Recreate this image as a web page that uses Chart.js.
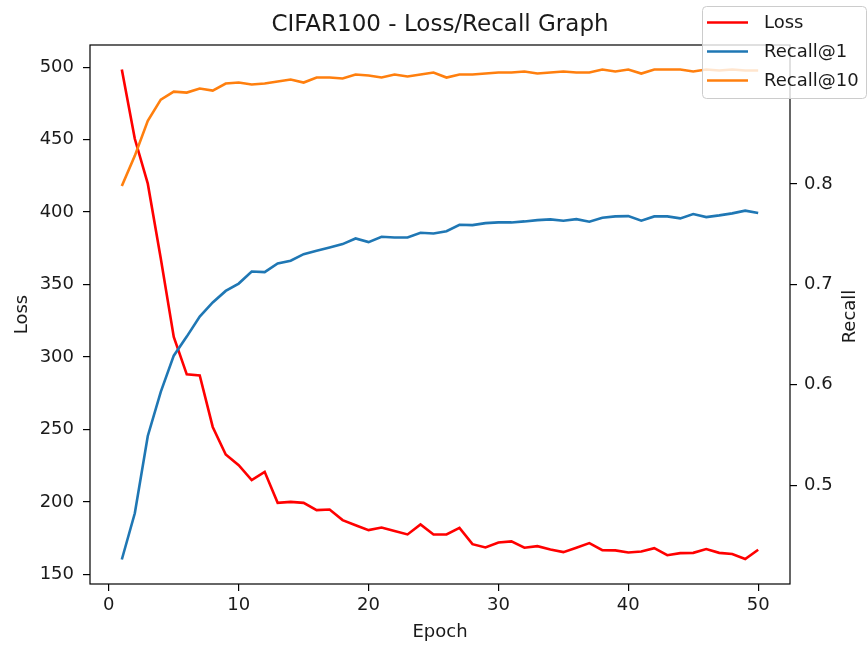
<!DOCTYPE html>
<html>
<head>
<meta charset="utf-8">
<script src="https://cdn.jsdelivr.net/npm/chart.js@4.4.0/dist/chart.umd.min.js"></script>
<style>
  body { margin: 0; background: #fff; }
  #wrap { width: 868px; height: 650px; }
</style>
</head>
<body>
<div id="wrap"><canvas id="myChart" width="868" height="650"></canvas></div>
<script>
// data
var epochs = [1,2,3,4,5,6,7,8,9,10,11,12,13,14,15,16,17,18,19,20,21,22,23,24,25,26,27,28,29,30,31,32,33,34,35,36,37,38,39,40,41,42,43,44,45,46,47,48,49,50];
var loss = [498.4,450.6,419.6,368,313.8,288,287.2,251.7,232.7,225.3,
            215,220.7,199.3,200,199.3,194.3,194.7,187.4,183.9,180.5,
            182.3,179.8,177.5,184.4,177.5,177.5,182,170.8,168.5,172,
            172.7,168.3,169.4,167.1,165.3,168.3,171.5,166.7,166.5,165,
            165.7,168,163.2,164.6,164.8,167.4,164.8,164,160.5,166.9];
var recall1 = [0.426,0.472,0.549,0.593,0.629,0.648,0.668,0.682,0.6935,0.7008,
               0.7128,0.7122,0.7208,0.7235,0.7301,0.7334,0.7367,0.7401,0.7457,0.7421,
               0.7474,0.7467,0.7467,0.7514,0.7507,0.753,0.7594,0.759,0.761,0.7617,
               0.7617,0.7627,0.764,0.7647,0.7634,0.765,0.7624,0.7664,0.7677,0.768,
               0.7634,0.7677,0.7677,0.7657,0.770,0.767,0.7687,0.7707,0.7734,0.771];
var recall10 = [0.798,0.828,0.863,0.884,0.892,0.891,0.895,0.893,0.900,0.901,
                0.899,0.900,0.902,0.904,0.901,0.906,0.906,0.905,0.909,0.908,
                0.906,0.909,0.907,0.909,0.911,0.906,0.909,0.909,0.910,0.911,
                0.911,0.912,0.910,0.911,0.912,0.911,0.911,0.914,0.912,0.914,
                0.910,0.914,0.914,0.914,0.912,0.914,0.913,0.914,0.913,0.913];
var xTicks = [0,10,20,30,40,50];
var lossTicks = [150,200,250,300,350,400,450,500];
var recallTicks = [0.5,0.6,0.7,0.8];

var FONT = 'DejaVu Sans';
var TXT = '#1a1a1a';

function pts(ys) {
  return epochs.map(function(e, i) { return {x: e, y: ys[i]}; });
}
function fixTicks(list) {
  return function(scale) { scale.ticks = list.map(function(v) { return {value: v}; }); };
}

var legendItems = [
  {label: 'Loss', color: '#ff0000'},
  {label: 'Recall@1', color: '#1f77b4'},
  {label: 'Recall@10', color: '#ff7f0e'}
];

var decor = {
  id: 'decor',
  beforeDraw: function(chart) {
    var ctx = chart.ctx;
    ctx.save();
    ctx.fillStyle = '#fff';
    ctx.fillRect(0, 0, chart.width, chart.height);
    ctx.restore();
  },
  afterDatasetsDraw: function(chart) {
    var a = chart.chartArea, ctx = chart.ctx;
    ctx.save();
    ctx.strokeStyle = '#000';
    ctx.lineWidth = 1.2;
    ctx.strokeRect(a.left, a.top, a.right - a.left, a.bottom - a.top);
    ctx.restore();
  },
  afterDraw: function(chart) {
    var ctx = chart.ctx, a = chart.chartArea;
    ctx.save();
    // right axis label, reads bottom to top
    ctx.fillStyle = TXT;
    ctx.font = '18px "' + FONT + '"';
    ctx.textAlign = 'center';
    ctx.textBaseline = 'middle';
    ctx.translate(850, (a.top + a.bottom) / 2 + 2);
    ctx.rotate(-Math.PI / 2);
    ctx.fillText('Recall', 0, 0);
    ctx.restore();

    // legend box
    ctx.save();
    ctx.beginPath();
    ctx.roundRect(702.5, 6.5, 164, 92, 4);
    ctx.fillStyle = 'rgba(255,255,255,0.8)';
    ctx.fill();
    ctx.strokeStyle = '#cccccc';
    ctx.lineWidth = 1;
    ctx.stroke();
    ctx.font = '18px "' + FONT + '"';
    ctx.textAlign = 'left';
    ctx.textBaseline = 'middle';
    legendItems.forEach(function(it, i) {
      var y = 22.5 + i * 29;
      ctx.strokeStyle = it.color;
      ctx.lineWidth = 2.6;
      ctx.beginPath();
      ctx.moveTo(707, y);
      ctx.lineTo(748, y);
      ctx.stroke();
      ctx.fillStyle = TXT;
      ctx.fillText(it.label, 764, y + 1);
    });
    ctx.restore();
  }
};

var ctx = document.getElementById('myChart').getContext('2d');
var chart = new Chart(ctx, {
  type: 'line',
  data: {
    datasets: [
      {label: 'Loss', data: pts(loss), yAxisID: 'yLoss', borderColor: '#ff0000', order: 3},
      {label: 'Recall@1', data: pts(recall1), yAxisID: 'yRecall', borderColor: '#1f77b4', order: 2},
      {label: 'Recall@10', data: pts(recall10), yAxisID: 'yRecall', borderColor: '#ff7f0e', order: 1}
    ]
  },
  options: {
    responsive: false,
    animation: false,
    layout: {padding: {left: 12, right: 0, top: 0, bottom: 0}},
    elements: {
      line: {borderWidth: 2.6, tension: 0, fill: false},
      point: {radius: 0, hoverRadius: 0}
    },
    plugins: {
      legend: {display: false},
      tooltip: {enabled: false},
      title: {
        display: true,
        text: 'CIFAR100 - Loss/Recall Graph',
        color: TXT,
        font: {family: FONT, size: 23, weight: 'normal'},
        padding: {top: 11.7, bottom: 5.7}
      }
    },
    scales: {
      x: {
        type: 'linear',
        min: -1.45, max: 52.45,
        afterBuildTicks: fixTicks(xTicks),
        afterFit: function(s) { s.height = 66; },
        border: {display: false},
        grid: {drawOnChartArea: false, drawTicks: true, tickLength: 7, color: '#000', lineWidth: 1.2},
        ticks: {color: TXT, font: {family: FONT, size: 18}, padding: 4, maxRotation: 0},
        title: {display: true, text: 'Epoch', color: TXT, font: {family: FONT, size: 18}, padding: {top: 0, bottom: 6.7}}
      },
      yLoss: {
        type: 'linear',
        position: 'left',
        min: 143.3, max: 515.3,
        afterBuildTicks: fixTicks(lossTicks),
        afterFit: function(s) { s.width = 78; },
        border: {display: false},
        grid: {drawOnChartArea: false, drawTicks: true, tickLength: 7, color: '#000', lineWidth: 1.2},
        ticks: {color: TXT, font: {family: FONT, size: 18}, padding: 9},
        title: {display: true, text: 'Loss', color: TXT, font: {family: FONT, size: 18}, padding: {top: 0, bottom: 0}}
      },
      yRecall: {
        type: 'linear',
        position: 'right',
        min: 0.4016, max: 0.9384,
        afterBuildTicks: fixTicks(recallTicks),
        afterFit: function(s) { s.width = 78; },
        border: {display: false},
        grid: {drawOnChartArea: false, drawTicks: true, tickLength: 7, color: '#000', lineWidth: 1.2},
        ticks: {color: TXT, font: {family: FONT, size: 18}, padding: 7,
                callback: function(v) { return v.toFixed(1); }}
      }
    }
  },
  plugins: [decor]
});
</script>
</body>
</html>
